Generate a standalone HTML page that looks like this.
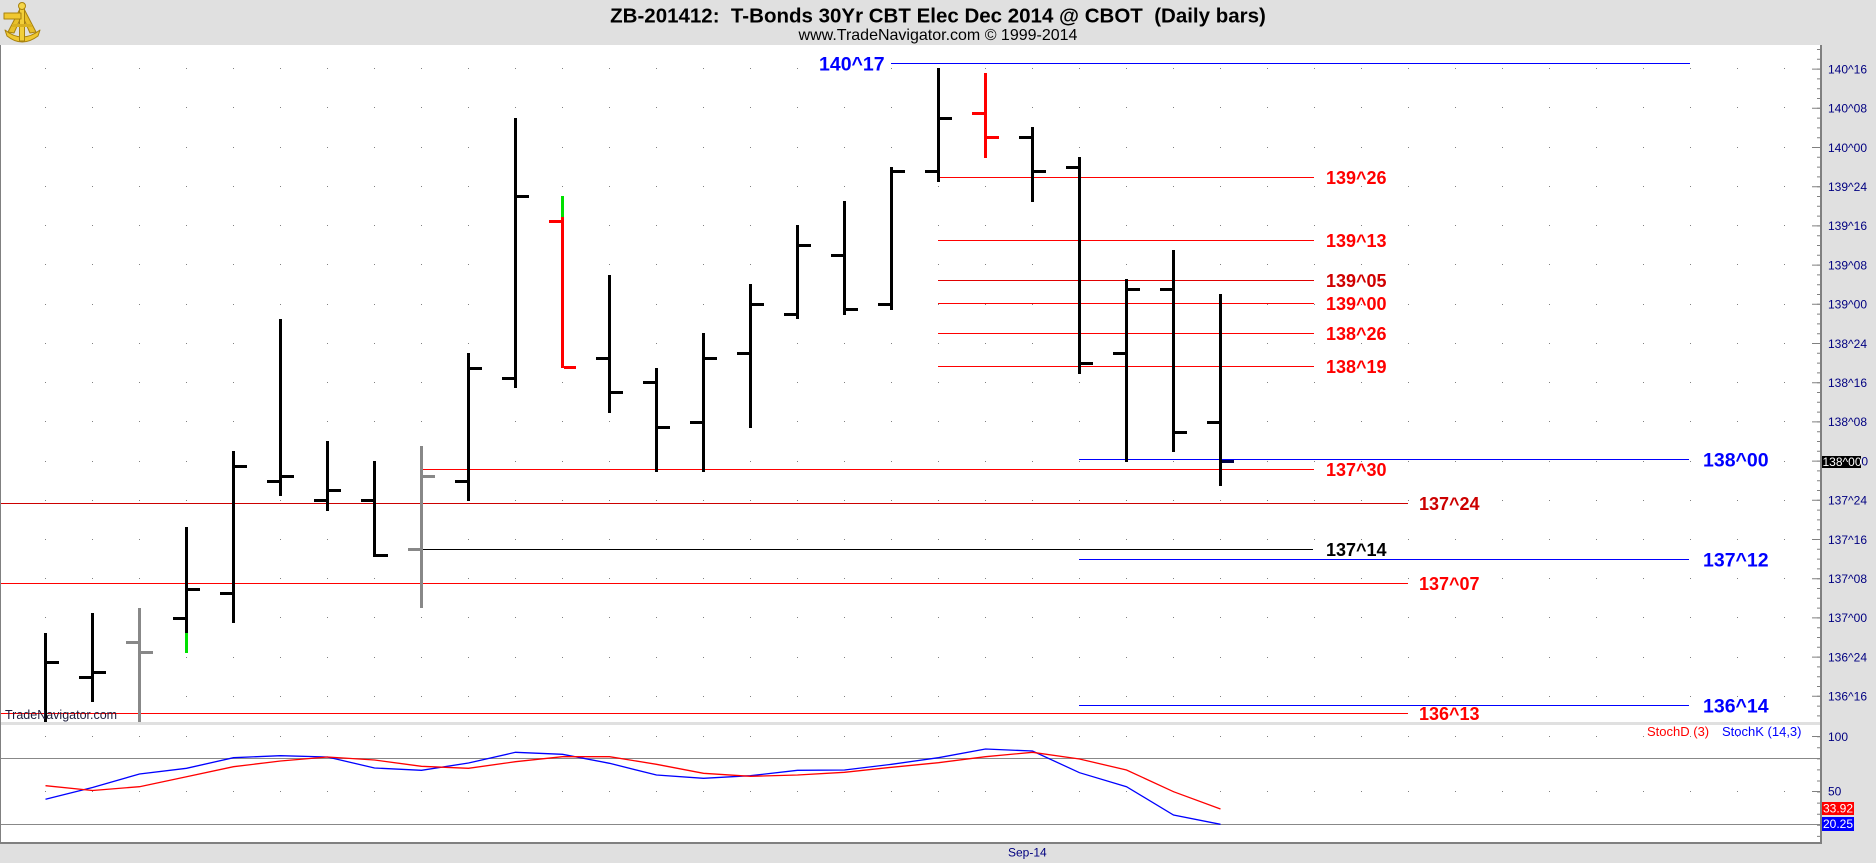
<!DOCTYPE html>
<html>
<head>
<meta charset="utf-8">
<style>
  html,body{margin:0;padding:0;background:#e0e0e0;}
  body{width:1876px;height:863px;overflow:hidden;}
  svg{display:block;}
</style>
</head>
<body>
<svg width="1876" height="863" viewBox="0 0 1876 863" xmlns="http://www.w3.org/2000/svg" font-family="'Liberation Sans', Arial, sans-serif">
  <!-- backgrounds -->
  <rect x="0" y="0" width="1876" height="863" fill="#e0e0e0"/>
  <rect x="0" y="45" width="1820" height="677" fill="#ffffff"/>
  <rect x="0" y="725" width="1820" height="117" fill="#ffffff"/>

  <!-- logo (sextant) -->
  <g stroke-linecap="round" stroke-linejoin="round">
    <path d="M5 30 Q22 44 40 30 L38 36 Q22 48 7 36 Z" fill="#f0c830" stroke="#a8820e" stroke-width="1"/>
    <path d="M22 5 L8 32 L14 33 L22 15 L30 33 L36 32 Z" fill="#e8c02a" stroke="#a8820e" stroke-width="1"/>
    <rect x="19.5" y="4" width="5" height="37" fill="#f2cf3a" stroke="#a8820e" stroke-width="1"/>
    <rect x="4" y="13" width="17" height="6" fill="#f0c830" stroke="#a8820e" stroke-width="1"/>
    <circle cx="22" cy="6" r="3.5" fill="#f5d64a" stroke="#a8820e" stroke-width="1"/>
    <rect x="12" y="24" width="20" height="3" fill="#d8b020"/>
  </g>

  <!-- title -->
  <text x="938" y="22.5" text-anchor="middle" font-size="20.5" font-weight="bold" fill="#000" xml:space="preserve" style="white-space:pre">ZB-201412:  T-Bonds 30Yr CBT Elec Dec 2014 @ CBOT  (Daily bars)</text>
  <text x="938" y="40" text-anchor="middle" font-size="16" fill="#000">www.TradeNavigator.com © 1999-2014</text>

  <!-- grid dots -->
  <g stroke="#808080" stroke-width="1" stroke-dasharray="1 46">
    <line x1="45" y1="68.5" x2="1812" y2="68.5"/>
    <line x1="45" y1="107.5" x2="1812" y2="107.5"/>
    <line x1="45" y1="147.5" x2="1812" y2="147.5"/>
    <line x1="45" y1="186.5" x2="1812" y2="186.5"/>
    <line x1="45" y1="225.5" x2="1812" y2="225.5"/>
    <line x1="45" y1="264.5" x2="1812" y2="264.5"/>
    <line x1="45" y1="304.5" x2="1812" y2="304.5"/>
    <line x1="45" y1="343.5" x2="1812" y2="343.5"/>
    <line x1="45" y1="382.5" x2="1812" y2="382.5"/>
    <line x1="45" y1="421.5" x2="1812" y2="421.5"/>
    <line x1="45" y1="461.5" x2="1812" y2="461.5"/>
    <line x1="45" y1="500.5" x2="1812" y2="500.5"/>
    <line x1="45" y1="539.5" x2="1812" y2="539.5"/>
    <line x1="45" y1="578.5" x2="1812" y2="578.5"/>
    <line x1="45" y1="617.5" x2="1812" y2="617.5"/>
    <line x1="45" y1="657.5" x2="1812" y2="657.5"/>
    <line x1="45" y1="696.5" x2="1812" y2="696.5"/>
    <line x1="45" y1="736.5" x2="1812" y2="736.5"/>
    <line x1="45" y1="791.5" x2="1812" y2="791.5"/>
  </g>

  <!-- horizontal level lines -->
  <g stroke-width="1">
    <line x1="891" y1="63.5" x2="1690" y2="63.5" stroke="#0000ff"/>
    <line x1="938" y1="177.5" x2="1314" y2="177.5" stroke="#ff0000"/>
    <line x1="938" y1="240.5" x2="1314" y2="240.5" stroke="#ff0000"/>
    <line x1="938" y1="280.5" x2="1314" y2="280.5" stroke="#e00000"/>
    <line x1="938" y1="303.5" x2="1314" y2="303.5" stroke="#ff0000"/>
    <line x1="938" y1="333.5" x2="1314" y2="333.5" stroke="#ff0000"/>
    <line x1="938" y1="366.5" x2="1314" y2="366.5" stroke="#ff0000"/>
    <line x1="1079" y1="459.5" x2="1689" y2="459.5" stroke="#0000ff"/>
    <line x1="421" y1="469.5" x2="1314" y2="469.5" stroke="#ff0000"/>
    <line x1="0" y1="503.5" x2="1408" y2="503.5" stroke="#cc0000"/>
    <line x1="421" y1="549.5" x2="1313" y2="549.5" stroke="#000000"/>
    <line x1="1079" y1="559.5" x2="1689" y2="559.5" stroke="#0000ff"/>
    <line x1="0" y1="583.5" x2="1408" y2="583.5" stroke="#ff0000"/>
    <line x1="1079" y1="705.5" x2="1689" y2="705.5" stroke="#0000ff"/>
    <line x1="0" y1="713.5" x2="1408" y2="713.5" stroke="#ff0000"/>
  </g>

  <!-- level labels -->
  <g font-weight="bold">
    <text x="819" y="70.5" font-size="19.5" fill="#0000ff">140^17</text>
    <text x="1326" y="184" font-size="18" fill="#ff0000">139^26</text>
    <text x="1326" y="247" font-size="18" fill="#ff0000">139^13</text>
    <text x="1326" y="287" font-size="18" fill="#d00000">139^05</text>
    <text x="1326" y="310" font-size="18" fill="#ff0000">139^00</text>
    <text x="1326" y="340" font-size="18" fill="#ff0000">138^26</text>
    <text x="1326" y="373" font-size="18" fill="#ff0000">138^19</text>
    <text x="1326" y="476" font-size="18" fill="#ff0000">137^30</text>
    <text x="1326" y="556" font-size="18" fill="#000000">137^14</text>
    <text x="1419" y="510" font-size="18" fill="#cc0000">137^24</text>
    <text x="1419" y="590" font-size="18" fill="#ff0000">137^07</text>
    <text x="1419" y="720" font-size="18" fill="#ff0000">136^13</text>
    <text x="1703" y="466.5" font-size="19.5" fill="#0000ff">138^00</text>
    <text x="1703" y="566.5" font-size="19.5" fill="#0000ff">137^12</text>
    <text x="1703" y="712.5" font-size="19.5" fill="#0000ff">136^14</text>
  </g>

  <!-- price bars -->
  <g fill="#000000">
    <rect x="44" y="633" width="3" height="89"/><rect x="47" y="661" width="12" height="3"/>
    <rect x="91" y="613" width="3" height="89"/><rect x="79" y="676" width="12" height="3"/><rect x="94" y="671" width="12" height="3"/>
    <rect x="185" y="527" width="3" height="106"/><rect x="173" y="617" width="12" height="3"/><rect x="188" y="588" width="12" height="3"/>
    <rect x="232" y="451" width="3" height="172"/><rect x="220" y="592" width="12" height="3"/><rect x="235" y="465" width="12" height="3"/>
    <rect x="279" y="319" width="3" height="177"/><rect x="267" y="480" width="12" height="3"/><rect x="282" y="475" width="12" height="3"/>
    <rect x="326" y="441" width="3" height="70"/><rect x="314" y="499" width="12" height="3"/><rect x="329" y="489" width="12" height="3"/>
    <rect x="373" y="461" width="3" height="96"/><rect x="361" y="499" width="12" height="3"/><rect x="376" y="554" width="12" height="3"/>
    <rect x="467" y="353" width="3" height="148"/><rect x="455" y="480" width="12" height="3"/><rect x="470" y="367" width="12" height="3"/>
    <rect x="514" y="118" width="3" height="270"/><rect x="502" y="377" width="12" height="3"/><rect x="517" y="195" width="12" height="3"/>
    <rect x="608" y="275" width="3" height="138"/><rect x="596" y="357" width="12" height="3"/><rect x="611" y="391" width="12" height="3"/>
    <rect x="655" y="368" width="3" height="104"/><rect x="643" y="381" width="12" height="3"/><rect x="658" y="426" width="12" height="3"/>
    <rect x="702" y="333" width="3" height="139"/><rect x="690" y="421" width="12" height="3"/><rect x="705" y="357" width="12" height="3"/>
    <rect x="749" y="284" width="3" height="144"/><rect x="737" y="352" width="12" height="3"/><rect x="752" y="303" width="12" height="3"/>
    <rect x="796" y="225" width="3" height="94"/><rect x="784" y="313" width="12" height="3"/><rect x="799" y="244" width="12" height="3"/>
    <rect x="843" y="201" width="3" height="114"/><rect x="831" y="254" width="12" height="3"/><rect x="846" y="308" width="12" height="3"/>
    <rect x="890" y="167" width="3" height="143"/><rect x="878" y="303" width="12" height="3"/><rect x="893" y="170" width="12" height="3"/>
    <rect x="937" y="68" width="3" height="114"/><rect x="925" y="170" width="12" height="3"/><rect x="940" y="117" width="12" height="3"/>
    <rect x="1031" y="127" width="3" height="75"/><rect x="1019" y="136" width="12" height="3"/><rect x="1034" y="170" width="12" height="3"/>
    <rect x="1078" y="157" width="3" height="217"/><rect x="1066" y="166" width="12" height="3"/><rect x="1081" y="362" width="12" height="3"/>
    <rect x="1125" y="279" width="3" height="183"/><rect x="1113" y="352" width="12" height="3"/><rect x="1128" y="288" width="12" height="3"/>
    <rect x="1172" y="250" width="3" height="202"/><rect x="1160" y="288" width="12" height="3"/><rect x="1175" y="431" width="12" height="3"/>
    <rect x="1219" y="294" width="3" height="192"/><rect x="1207" y="421" width="12" height="3"/><rect x="1222" y="460" width="12" height="3" fill="#000040"/>
  </g>
  <g fill="#888888">
    <rect x="138" y="608" width="3" height="114"/><rect x="126" y="641" width="12" height="3"/><rect x="141" y="651" width="12" height="3"/>
    <rect x="420" y="446" width="3" height="162"/><rect x="408" y="548" width="12" height="3"/><rect x="423" y="475" width="12" height="3"/>
  </g>
  <g fill="#00e000">
    <rect x="185" y="633" width="3" height="20"/>
    <rect x="561" y="196" width="3" height="21"/>
  </g>
  <g fill="#ff0000">
    <rect x="561" y="217" width="3" height="151"/><rect x="549" y="220" width="12" height="3"/><rect x="564" y="366" width="12" height="3"/>
    <rect x="984" y="73" width="3" height="85"/><rect x="972" y="112" width="12" height="3"/><rect x="987" y="136" width="12" height="3"/>
  </g>

  <!-- watermark -->
  <text x="5" y="719" font-size="12.5" fill="#1c1c3c">TradeNavigator.com</text>

  <!-- panel separator -->
  <rect x="0" y="722" width="1822" height="3" fill="#e0e0e0"/>

  <!-- stoch reference lines -->
  <line x1="0" y1="758.5" x2="1820" y2="758.5" stroke="#888888" stroke-width="1"/>
  <line x1="0" y1="824.5" x2="1820" y2="824.5" stroke="#888888" stroke-width="1"/>

  <!-- stoch lines -->
  <polyline fill="none" stroke="#0000ff" stroke-width="1.3" points="45.5,799.3 92.5,787.5 139.5,774 186.5,768.3 233.5,757.7 280.5,755.7 327.5,757 374.5,768 421.5,770.3 468.5,763 515.5,752.3 562.5,754.3 609.5,763.3 656.5,775 703.5,778.3 750.5,775.7 797.5,770.3 844.5,770 891.5,764.3 938.5,757.7 985.5,749 1032.5,751 1079.5,772.7 1126.5,786.7 1173.5,815 1220.5,824.3"/>
  <polyline fill="none" stroke="#ff0000" stroke-width="1.3" points="45.5,785.7 92.5,790.5 139.5,786.7 186.5,776.7 233.5,766.7 280.5,761 327.5,757 374.5,760 421.5,766.3 468.5,768.3 515.5,761.7 562.5,756.7 609.5,756.7 656.5,764.3 703.5,773.3 750.5,776.3 797.5,775 844.5,772.3 891.5,767.3 938.5,762.7 985.5,756.7 1032.5,752.3 1079.5,759 1126.5,770 1173.5,791.7 1220.5,809"/>

  <!-- stoch legend -->
  <text x="1647" y="736" font-size="13" fill="#ff0000">StochD (3)</text>
  <text x="1722" y="736" font-size="13" fill="#0000ff">StochK (14,3)</text>

  <!-- borders -->
  <line x1="0.5" y1="45" x2="0.5" y2="844" stroke="#808080" stroke-width="1"/>
  <rect x="0" y="842" width="1822" height="2" fill="#808080"/>
  <rect x="1820" y="45" width="2" height="799" fill="#808080"/>

  <!-- axis ticks -->
  <line x1="1818.5" y1="49" x2="1818.5" y2="722" stroke="#808080" stroke-width="3" stroke-dasharray="1 8.8"/>
  <line x1="1816" y1="68.6" x2="1816" y2="722" stroke="#808080" stroke-width="8" stroke-dasharray="1 38.2"/>
  <line x1="1818.5" y1="736.2" x2="1818.5" y2="842" stroke="#808080" stroke-width="3" stroke-dasharray="1 10.07"/>
  <rect x="1812" y="736" width="8" height="1" fill="#808080"/>
  <rect x="1812" y="791" width="8" height="1" fill="#808080"/>

  <!-- axis labels -->
  <g font-size="12" fill="#000080">
    <text x="1828" y="73.4">140^16</text>
    <text x="1828" y="112.6">140^08</text>
    <text x="1828" y="151.8">140^00</text>
    <text x="1828" y="191">139^24</text>
    <text x="1828" y="230.2">139^16</text>
    <text x="1828" y="269.4">139^08</text>
    <text x="1828" y="308.6">139^00</text>
    <text x="1828" y="347.8">138^24</text>
    <text x="1828" y="387">138^16</text>
    <text x="1828" y="426.2">138^08</text>
    <text x="1829" y="465.4">138^00</text>
    <text x="1828" y="504.6">137^24</text>
    <text x="1828" y="543.8">137^16</text>
    <text x="1828" y="583">137^08</text>
    <text x="1828" y="622.2">137^00</text>
    <text x="1828" y="661.4">136^24</text>
    <text x="1828" y="700.6">136^16</text>
    <text x="1828" y="741">100</text>
    <text x="1828" y="795.6">50</text>
    <text x="1008" y="856.5">Sep-14</text>
  </g>

  <!-- last price box -->
  <rect x="1822" y="456" width="39" height="12" fill="#000000"/>
  <text x="1822.5" y="466" font-size="12" fill="#ffffff">138^00</text>

  <!-- stoch value boxes -->
  <rect x="1822" y="802" width="32" height="13" fill="#ff0000"/>
  <text x="1823" y="812.5" font-size="12" fill="#ffffff">33.92</text>
  <rect x="1822" y="817" width="32" height="14" fill="#0000ff"/>
  <text x="1823" y="828" font-size="12" fill="#ffffff">20.25</text>
</svg>
</body>
</html>
